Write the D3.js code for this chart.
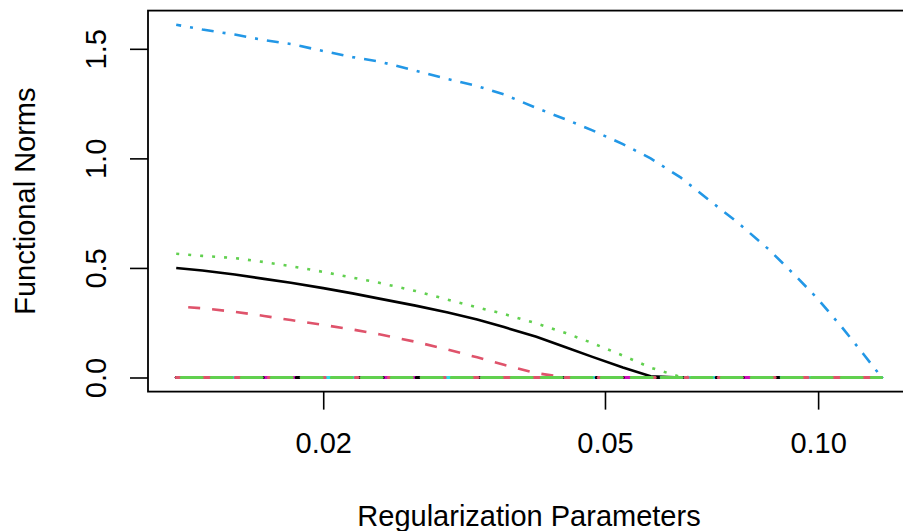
<!DOCTYPE html>
<html>
<head>
<meta charset="utf-8">
<script src="https://cdn.jsdelivr.net/npm/d3@7"></script>
<style>
  body { margin: 0; background: #fff; }
  svg { display: block; font-family: "Liberation Sans", Arial, sans-serif; }
</style>
</head>
<body>
<div id="chart"></div>
<script>
// regularization parameters (x, log scale)
var lambda = [0.0124, 0.0135, 0.015, 0.0165, 0.018, 0.02, 0.022, 0.024, 0.027, 0.03, 0.033, 0.036, 0.04,
              0.044, 0.048, 0.053, 0.058, 0.064, 0.07, 0.077, 0.085, 0.093, 0.1, 0.108, 0.116, 0.123];

// functional norms, one array per component
var norm1 = [0.500, 0.488, 0.470, 0.450, 0.432, 0.408, 0.384, 0.360, 0.328, 0.297, 0.265, 0.230, 0.186,
             0.138, 0.094, 0.046, 0.006, 0, 0, 0, 0, 0, 0, 0, 0, 0];
var norm2 = [0.325, 0.316, 0.300, 0.281, 0.262, 0.240, 0.219, 0.197, 0.163, 0.127, 0.092, 0.058, 0.020,
             0, 0, 0, 0, 0, 0, 0, 0, 0, 0, 0, 0, 0];
var norm3 = [0.565, 0.555, 0.545, 0.527, 0.508, 0.482, 0.456, 0.432, 0.395, 0.355, 0.320, 0.290, 0.247,
             0.203, 0.157, 0.100, 0.045, 0.002, 0, 0, 0, 0, 0, 0, 0, 0];
var norm4 = [1.610, 1.588, 1.565, 1.540, 1.522, 1.490, 1.462, 1.442, 1.400, 1.362, 1.330, 1.292, 1.230,
             1.178, 1.128, 1.065, 1.000, 0.912, 0.812, 0.707, 0.587, 0.463, 0.357, 0.230, 0.105, 0];
// the other components are zero over the whole path
var normZero = [0, 0, 0, 0, 0, 0, 0, 0, 0, 0, 0, 0, 0, 0, 0, 0, 0, 0, 0, 0, 0, 0, 0, 0, 0, 0];
var nZero = 11;

var xTicks = [0.02, 0.05, 0.1];
var yTicks = [0, 0.5, 1.0, 1.5];

// matplot style cycling: 6 colours, 5 line types
var colors = ["#000000", "#DF536B", "#61D04F", "#2297E6", "#28E2E5", "#CD0BBC"];
var dashes = [null, "12,12", "3,9", "3,9,12,9", "21,9"];
var offsets = [0, 12, 0, 19, 25];

var series = [norm1, norm2, norm3, norm4];
for (let i = 0; i < nZero; i++) series.push(normZero);

var W = 903, H = 531;
var plot = {left: 148, top: 10.6, right: 910, bottom: 391.61};

var svg = d3.select("#chart").append("svg").attr("width", W).attr("height", H);

// R style 4% padding on both axes
var lx = d3.extent(lambda).map(Math.log);
var padx = (lx[1] - lx[0]) * 0.04;
var x = d3.scaleLog().domain([Math.exp(lx[0] - padx), Math.exp(lx[1] + padx)]).range([plot.left, plot.right]);

var ymax = d3.max(series, function(s) { return d3.max(s); });
var pady = ymax * 0.04;
var y = d3.scaleLinear().domain([0 - pady, ymax + pady]).range([plot.bottom, plot.top]);

var line = d3.line().x(function(d, i) { return x(lambda[i]); }).y(function(d) { return y(d); });

series.forEach(function(s, k) {
    var p = svg.append("path").datum(s).attr("d", line)
      .attr("fill", "none").attr("stroke", colors[k % 6]).attr("stroke-width", 2.6);
    if (dashes[k % 5]) p.attr("stroke-dasharray", dashes[k % 5]).attr("stroke-dashoffset", offsets[k % 5]);
    // flat components: round ends close the small gaps like the R device does
    if (k >= 4) p.attr("stroke-width", 3).attr("stroke-linecap", "round");
});

// box
svg.append("rect").attr("x", plot.left).attr("y", plot.top)
  .attr("width", plot.right - plot.left).attr("height", plot.bottom - plot.top)
  .attr("fill", "none").attr("stroke", "#000").attr("stroke-width", 1.8);

// x axis
var gx = svg.append("g").attr("transform", "translate(0," + plot.bottom + ")")
  .call(d3.axisBottom(x).tickValues(xTicks).tickFormat(d3.format(".2f")).tickSize(18).tickPadding(23));
gx.select(".domain").remove();
gx.selectAll("line").attr("stroke", "#000").attr("stroke-width", 1.6);
gx.selectAll("text").attr("font-size", 29).attr("fill", "#000").attr("font-family", "Liberation Sans, Arial, sans-serif");

// y axis, labels parallel to axis
var gy = svg.append("g").attr("transform", "translate(" + plot.left + ",0)")
  .call(d3.axisLeft(y).tickValues(yTicks).tickFormat(d3.format(".1f")).tickSize(18));
gy.select(".domain").remove();
gy.selectAll("line").attr("stroke", "#000").attr("stroke-width", 1.6);
gy.selectAll("text").attr("font-size", 29).attr("fill", "#000").attr("font-family", "Liberation Sans, Arial, sans-serif")
  .attr("transform", "rotate(-90)").attr("x", 0).attr("y", -42).attr("dy", 0).attr("text-anchor", "middle");

// axis titles
svg.append("text").attr("x", (plot.left + plot.right) / 2).attr("y", 526)
  .attr("text-anchor", "middle").attr("font-size", 29).text("Regularization Parameters");
svg.append("text").attr("transform", "translate(35," + (plot.top + plot.bottom) / 2 + ") rotate(-90)")
  .attr("text-anchor", "middle").attr("font-size", 29).text("Functional Norms");
</script>
</body>
</html>
